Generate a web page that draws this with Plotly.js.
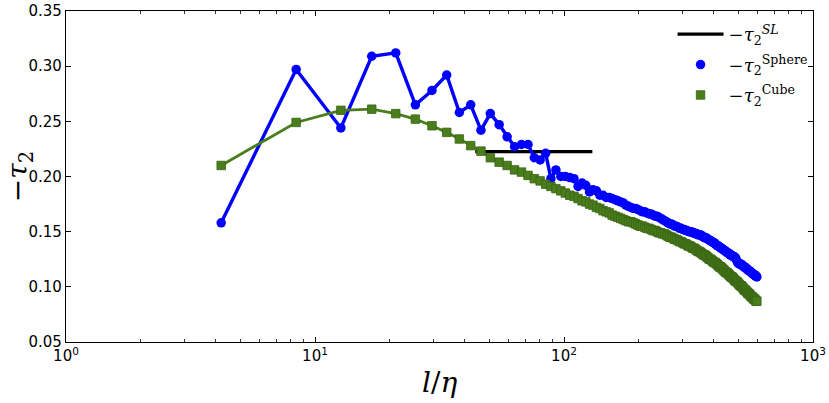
<!DOCTYPE html>
<html>
<head>
<meta charset="utf-8">
<script src="https://cdn.plot.ly/plotly-3.0.1.min.js"></script>
<style>
    body { margin: 0; background: #fff; }
</style>
</head>
<body>
<div id="my_plot"></div>
<script>

// separation l/eta, same grid for both sets
scales = [
    4.2, 8.4, 12.7, 16.9, 21.1, 25.3, 29.5, 33.8, 38.0, 42.2,
    46.4, 50.6, 54.9, 59.1, 63.3, 67.5, 71.7, 76.0, 80.2, 84.4,
    88.6, 92.8, 97.1, 101.3, 105.5, 109.7, 113.9, 118.2, 122.4, 126.6,
    130.8, 135.0, 139.3, 143.5, 147.7, 151.9, 156.1, 160.4, 164.6, 168.8,
    173.0, 177.2, 181.5, 185.7, 189.9, 194.1, 198.3, 202.6, 206.8, 211.0,
    215.2, 219.4, 223.7, 227.9, 232.1, 236.3, 240.5, 244.8, 249.0, 253.2,
    257.4, 261.6, 265.9, 270.1, 274.3, 278.5, 282.7, 287.0, 291.2, 295.4,
    299.6, 303.8, 308.1, 312.3, 316.5, 320.7, 324.9, 329.2, 333.4, 337.6,
    341.8, 346.0, 350.3, 354.5, 358.7, 362.9, 367.1, 371.4, 375.6, 379.8,
    384.0, 388.2, 392.5, 396.7, 400.9, 405.1, 409.3, 413.6, 417.8, 422.0,
    426.2, 430.4, 434.7, 438.9, 443.1, 447.3, 451.5, 455.8, 460.0, 464.2,
    468.4, 472.6, 476.9, 481.1, 485.3, 489.5, 493.7, 498.0, 502.2, 506.4,
    510.6, 514.8, 519.1, 523.3, 527.5, 531.7, 535.9, 540.2, 544.4, 548.6,
    552.8, 557.0, 561.3, 565.5, 569.7, 573.9, 578.1, 582.4, 586.6, 590.8,
    595.0,
];

tau_sphere = [
    0.158, 0.297, 0.244, 0.309, 0.312, 0.265, 0.278, 0.292, 0.258, 0.265,
    0.242, 0.257, 0.247, 0.236, 0.227, 0.229, 0.229, 0.217, 0.215, 0.221,
    0.198, 0.206, 0.200, 0.200, 0.199, 0.198, 0.191, 0.194, 0.192, 0.186,
    0.188, 0.187, 0.183, 0.183, 0.181, 0.181, 0.180, 0.179, 0.178, 0.177,
    0.176, 0.174, 0.173, 0.172, 0.171, 0.171, 0.170, 0.169, 0.168, 0.168,
    0.167, 0.166, 0.166, 0.165, 0.164, 0.164, 0.163, 0.162, 0.161, 0.160,
    0.159, 0.158, 0.157, 0.157, 0.156, 0.155, 0.155, 0.154, 0.153, 0.153,
    0.152, 0.152, 0.151, 0.151, 0.150, 0.150, 0.150, 0.149, 0.149, 0.148,
    0.148, 0.147, 0.147, 0.147, 0.146, 0.145, 0.145, 0.144, 0.144, 0.143,
    0.142, 0.142, 0.141, 0.140, 0.140, 0.139, 0.138, 0.137, 0.137, 0.136,
    0.135, 0.135, 0.134, 0.133, 0.133, 0.132, 0.131, 0.131, 0.130, 0.129,
    0.129, 0.128, 0.128, 0.127, 0.127, 0.126, 0.124, 0.122, 0.121, 0.121,
    0.121, 0.120, 0.120, 0.119, 0.118, 0.118, 0.117, 0.117, 0.116, 0.115,
    0.115, 0.114, 0.114, 0.113, 0.112, 0.112, 0.111, 0.111, 0.110, 0.110,
    0.109,
];

tau_cube = [
    0.210, 0.249, 0.260, 0.261, 0.257, 0.252, 0.246, 0.240, 0.234, 0.228,
    0.223, 0.217, 0.213, 0.210, 0.206, 0.204, 0.201, 0.198, 0.196, 0.193,
    0.191, 0.189, 0.187, 0.185, 0.183, 0.182, 0.180, 0.178, 0.177, 0.175,
    0.174, 0.172, 0.171, 0.169, 0.168, 0.167, 0.165, 0.164, 0.163, 0.162,
    0.161, 0.160, 0.159, 0.159, 0.158, 0.157, 0.156, 0.155, 0.155, 0.154,
    0.153, 0.153, 0.152, 0.151, 0.151, 0.150, 0.149, 0.149, 0.148, 0.148,
    0.147, 0.146, 0.145, 0.145, 0.144, 0.143, 0.143, 0.142, 0.141, 0.141,
    0.140, 0.139, 0.139, 0.138, 0.137, 0.137, 0.136, 0.135, 0.135, 0.134,
    0.133, 0.132, 0.132, 0.131, 0.130, 0.129, 0.129, 0.128, 0.127, 0.126,
    0.125, 0.125, 0.124, 0.123, 0.122, 0.122, 0.121, 0.120, 0.119, 0.118,
    0.118, 0.117, 0.116, 0.115, 0.114, 0.113, 0.113, 0.112, 0.111, 0.110,
    0.109, 0.109, 0.108, 0.107, 0.106, 0.105, 0.105, 0.104, 0.103, 0.102,
    0.101, 0.101, 0.100, 0.099, 0.098, 0.097, 0.097, 0.096, 0.095, 0.094,
    0.094, 0.093, 0.092, 0.091, 0.091, 0.090, 0.089, 0.089, 0.088, 0.087,
    0.087,
];

// She-Leveque reference level
sl_range = [44, 130];
sl_value = [0.2225, 0.2225];

xtick_vals = [1, 10, 100, 1000];
xtick_text = ["10<sup>0</sup>", "10<sup>1</sup>", "10<sup>2</sup>", "10<sup>3</sup>"];
ytick_vals = [0.05, 0.10, 0.15, 0.20, 0.25, 0.30, 0.35];
ytick_text = ["0.05", "0.10", "0.15", "0.20", "0.25", "0.30", "0.35"];


function make_minor_ticks(log_min, log_max) {
    var ticks = [];
    for (var j = log_min; j < log_max; j++) {
        for (var i = 2; i < 10; i++) {
            ticks.push(i * Math.pow(10, j));
        }
    }
    return ticks;
}

var blue = "#0000ff";
var green = "#4a7d1c";
var tick_font = {family: "DejaVu Sans", size: 15, color: "#000"};
var serif = "DejaVu Serif";


function make_plot() {

    var trace_sl = {
        name: "\u2212<i>\u03c4</i><sub>2</sub><sup><i>SL</i></sup>",
        type: "scatter",
        x: sl_range,
        y: sl_value,
        mode: "lines",
        line: {color: "#000", width: 3.2},
        legendgroup: "a",
    };
    var trace_sphere_line = {
        type: "scatter",
        x: scales,
        y: tau_sphere,
        mode: "lines",
        line: {color: blue, width: 3.4},
        showlegend: false,
        hoverinfo: "skip",
    };
    var trace_sphere = {
        name: "\u2212<i>\u03c4</i><sub>2</sub><sup>Sphere</sup>",
        type: "scatter",
        x: scales,
        y: tau_sphere,
        mode: "markers",
        marker: {color: blue, size: 9.5, symbol: "circle"},
        legendgroup: "b",
    };
    var trace_cube_line = {
        type: "scatter",
        x: scales,
        y: tau_cube,
        mode: "lines",
        line: {color: green, width: 2.8},
        showlegend: false,
        hoverinfo: "skip",
    };
    var trace_cube = {
        name: "\u2212<i>\u03c4</i><sub>2</sub><sup>Cube</sup>",
        type: "scatter",
        x: scales,
        y: tau_cube,
        mode: "markers",
        marker: {color: green, size: 8.5, symbol: "square",
                 line: {color: "#3a6414", width: 0.8}},
        legendgroup: "c",
    };

    var data = [trace_sl, trace_sphere_line, trace_sphere, trace_cube_line, trace_cube];

    var layout = {
        width: 829,
        height: 403,
        margin: {l: 66, r: 16, t: 11, b: 61},
        paper_bgcolor: "#fff",
        plot_bgcolor: "#fff",
        hovermode: false,
        showlegend: true,
        legend: {
            x: 0.812,
            y: 0.985,
            xanchor: "left",
            yanchor: "top",
            bgcolor: "rgba(0,0,0,0)",
            font: {family: serif, size: 18, color: "#000"},
            itemwidth: 46,
            tracegroupgap: 4,
        },
        xaxis: {
            type: "log",
            range: [0, 3],
            showline: true,
            linecolor: "#000",
            linewidth: 1.2,
            mirror: "ticks",
            ticks: "inside",
            ticklen: 5,
            tickwidth: 1,
            tickcolor: "#000",
            tickvals: xtick_vals,
            ticktext: xtick_text,
            tickfont: tick_font,
            showgrid: false,
            zeroline: false,
            minor: {
                ticks: "inside",
                ticklen: 3,
                tickwidth: 0.8,
                tickcolor: "#000",
                tickvals: make_minor_ticks(0, 3),
                showgrid: false,
            },
        },
        yaxis: {
            range: [0.05, 0.35],
            showline: true,
            linecolor: "#000",
            linewidth: 1.2,
            mirror: "ticks",
            ticks: "inside",
            ticklen: 5,
            tickwidth: 1,
            tickcolor: "#000",
            tickvals: ytick_vals,
            ticktext: ytick_text,
            tickfont: tick_font,
            showgrid: false,
            zeroline: false,
        },
        annotations: [
            {
                text: "<i>l</i>/<i>\u03b7</i>",
                xref: "paper", yref: "paper",
                x: 0.5, y: -0.121,
                xanchor: "center", yanchor: "middle",
                showarrow: false,
                font: {family: serif, size: 28, color: "#000"},
            },
            {
                text: "\u2212<i>\u03c4</i><sub>2</sub>",
                xref: "paper", yref: "paper",
                x: -0.062, y: 0.5,
                xanchor: "center", yanchor: "middle",
                textangle: -90,
                showarrow: false,
                font: {family: serif, size: 28, color: "#000"},
            },
        ],
    };

    Plotly.newPlot('my_plot', data, layout, {displayModeBar: false, staticPlot: true});
}

make_plot();
</script>
</body>
</html>
